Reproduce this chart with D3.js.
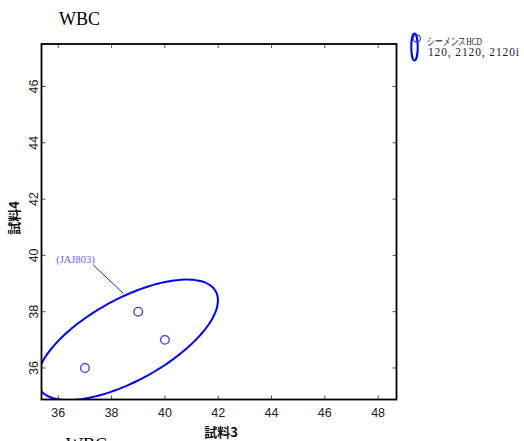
<!DOCTYPE html>
<html><head><meta charset="utf-8">
<script src="https://cdn.jsdelivr.net/npm/d3@7"></script>
<style>body{margin:0;background:#fff}svg{display:block}</style>
</head><body>
<script>
// ---- data ----
const title = "WBC";
const xLabel = "試料3";
const yLabel = "試料4";
const xTicks = [36, 38, 40, 42, 44, 46, 48];
const yTicks = [36, 38, 40, 42, 44, 46];
const xDomain = [35.37, 48.69];
const yDomain = [34.88, 47.51];
const pointsX = [37, 39, 40];
const pointsY = [36, 38, 37];
const ellipseCenter = [38.6, 37.0];
const ellipseAxes = [3.73, 1.47];   // semi-axes in data units
const ellipseAngle = 27;            // degrees, in data space
const groupLabel = "(JAJ803)";
const labelAnchor = [37.31, 39.66];
const labelTarget = [38.44, 38.65];
const legendLines = ["シーメンスHCD", "120, 2120, 2120i"];

const W = 524, H = 441;
const svg = d3.select("body").append("svg").attr("width", W).attr("height", H);
const L = 41.5, R = 396.5, T = 44, B = 399.5;
const x = d3.scaleLinear().domain(xDomain).range([L, R]);
const y = d3.scaleLinear().domain(yDomain).range([B, T]);

svg.append("defs").append("clipPath").attr("id", "clip")
  .append("rect").attr("x", L).attr("y", T).attr("width", R - L).attr("height", B - T);

// ticks (inward on all sides)
const tickCol = "#555";
const tk = 4;
const gt = svg.append("g").attr("stroke", tickCol).attr("stroke-width", 1);
xTicks.forEach(v => {
  gt.append("line").attr("x1", x(v)).attr("x2", x(v)).attr("y1", B).attr("y2", B - tk);
  gt.append("line").attr("x1", x(v)).attr("x2", x(v)).attr("y1", T).attr("y2", T + tk);
});
yTicks.forEach(v => {
  gt.append("line").attr("y1", y(v)).attr("y2", y(v)).attr("x1", L).attr("x2", L + tk);
  gt.append("line").attr("y1", y(v)).attr("y2", y(v)).attr("x1", R).attr("x2", R - tk);
});

// tick labels
const sans = "'Liberation Sans', Arial, sans-serif";
svg.append("g").selectAll("text").data(xTicks).join("text")
  .attr("x", d => x(d)).attr("y", 417).attr("text-anchor", "middle")
  .attr("font-family", sans).attr("font-size", 12.5).attr("fill", "#222").text(d => d);
svg.append("g").selectAll("text").data(yTicks).join("text")
  .attr("transform", d => `translate(37.5,${y(d)}) rotate(-90)`).attr("text-anchor", "middle")
  .attr("font-family", sans).attr("font-size", 12.5).attr("fill", "#222").text(d => d);

// axis titles
const jp = "'Noto Sans CJK JP', sans-serif";
svg.append("text").attr("x", 221).attr("y", 437).attr("text-anchor", "middle")
  .attr("font-family", jp).attr("font-weight", "bold").attr("font-size", 13).attr("fill", "#111").text(xLabel);
svg.append("text").attr("transform", "translate(19,218) rotate(-90)").attr("text-anchor", "middle")
  .attr("font-family", jp).attr("font-weight", "bold").attr("font-size", 13).attr("fill", "#111").text(yLabel);

// titles
const serif = "'Liberation Serif', 'Times New Roman', serif";
svg.append("text").attr("x", 59).attr("y", 25).attr("font-family", serif).attr("font-size", 18)
  .attr("fill", "#000").text(title);
svg.append("text").attr("x", 66).attr("y", 451).attr("font-family", serif).attr("font-size", 18)
  .attr("fill", "#000").text(title);

// ellipse
const plot = svg.append("g").attr("clip-path", "url(#clip)");
const th = ellipseAngle * Math.PI / 180;
const pts = d3.range(0, 361, 2).map(a => {
  const t = a * Math.PI / 180;
  const ex = ellipseAxes[0] * Math.cos(t), ey = ellipseAxes[1] * Math.sin(t);
  return [ellipseCenter[0] + ex * Math.cos(th) - ey * Math.sin(th),
          ellipseCenter[1] + ex * Math.sin(th) + ey * Math.cos(th)];
});
plot.append("path").datum(pts)
  .attr("d", d3.line().x(d => x(d[0])).y(d => y(d[1])).curve(d3.curveCardinalClosed))
  .attr("fill", "none").attr("stroke", "#0000ff").attr("stroke-width", 2);

// points
plot.selectAll("circle").data(pointsX.map((v, i) => [v, pointsY[i]])).join("circle")
  .attr("cx", d => x(d[0])).attr("cy", d => y(d[1])).attr("r", 4.3)
  .attr("fill", "none").attr("stroke", "#3a3aff").attr("stroke-width", 1.3);

// label + leader
svg.append("line").attr("x1", x(labelAnchor[0])).attr("y1", y(labelAnchor[1]))
  .attr("x2", x(labelTarget[0])).attr("y2", y(labelTarget[1]))
  .attr("stroke", "#1a1aff").attr("stroke-width", 1);
svg.append("text").attr("x", x(labelAnchor[0]) + 1.5).attr("y", y(labelAnchor[1]) - 1.5)
  .attr("text-anchor", "end").attr("font-family", serif).attr("font-size", 10.5)
  .attr("fill", "#6464ff").text(groupLabel);

// frame
svg.append("rect").attr("x", L).attr("y", T).attr("width", R - L).attr("height", B - T)
  .attr("fill", "none").attr("stroke", "#000").attr("stroke-width", 1.8);

// legend
svg.append("ellipse").attr("cx", 414.5).attr("cy", 47).attr("rx", 3.2).attr("ry", 13.5)
  .attr("fill", "none").attr("stroke", "#0000ff").attr("stroke-width", 2);
svg.append("circle").attr("cx", 416.8).attr("cy", 38.5).attr("r", 3.6)
  .attr("fill", "none").attr("stroke", "#3a3aff").attr("stroke-width", 1.2);
svg.append("text").attr("x", 427).attr("y", 44.5).attr("font-family", serif).attr("font-size", 10.5)
  .attr("fill", "#222").attr("textLength", 55).attr("lengthAdjust", "spacingAndGlyphs").text(legendLines[0]);
svg.append("text").attr("x", 428).attr("y", 56).attr("font-family", serif).attr("font-size", 11.5)
  .attr("fill", "#222").attr("textLength", 91).attr("lengthAdjust", "spacing").text(legendLines[1]);
</script>
</body></html>
